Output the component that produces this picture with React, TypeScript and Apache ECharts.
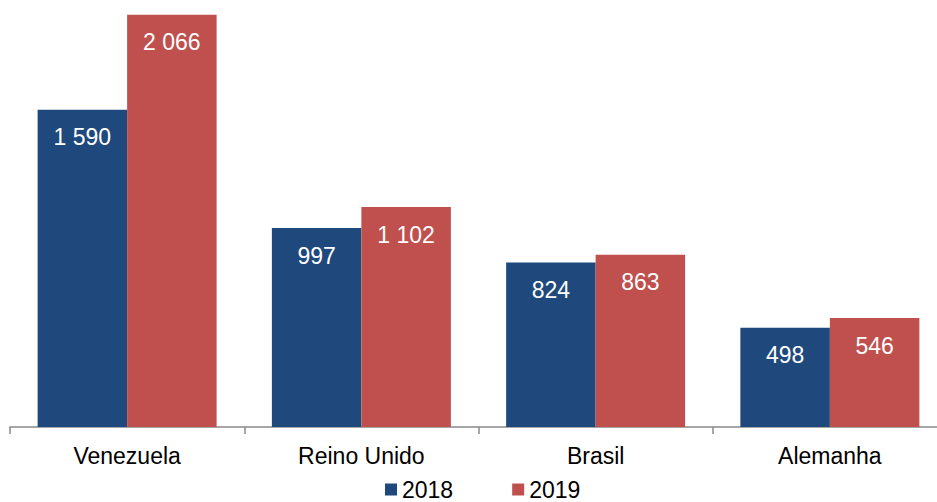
import React, { useEffect, useRef } from "react";
import * as echarts from "echarts";

const categories = ["Venezuela", "Reino Unido", "Brasil", "Alemanha"];
const series2018 = [1590, 997, 824, 498];
const series2019 = [2066, 1102, 863, 546];
const seriesNames = ["2018", "2019"];

const FONT = "'Liberation Sans', Arial, sans-serif";

function fmt(v: number): string {
  const s = String(Math.round(v));
  return s.replace(/\B(?=(\d{3})+(?!\d))/g, " ");
}

export default function App() {
  const ref = useRef<HTMLDivElement>(null);
  useEffect(() => {
    if (!ref.current) return;
    const chart = echarts.init(ref.current, undefined, { renderer: "svg" });
    const label = {
      show: true,
      position: "insideTop",
      distance: 16,
      color: "#ffffff",
      fontSize: 23,
      fontFamily: FONT,
      formatter: (p: any) => fmt(p.value),
    };
    chart.setOption({
      animation: false,
      grid: { left: 10, right: 1, top: 8, bottom: 75, containLabel: false },
      legend: {
        data: seriesNames,
        left: 385,
        top: 478,
        itemWidth: 12,
        itemHeight: 12,
        itemGap: 59,
        icon: "rect",
        textStyle: { fontSize: 23, fontFamily: FONT, color: "#000", lineHeight: 23 },
        padding: 0,
      },
      xAxis: {
        type: "category",
        data: categories,
        axisLine: { show: true, lineStyle: { color: "#898989", width: 1.5 } },
        axisTick: { show: true, length: 7, lineStyle: { color: "#898989", width: 1.5 } },
        axisLabel: { fontSize: 23, fontFamily: FONT, color: "#000", margin: 17 },
      },
      yAxis: {
        type: "value",
        min: 0,
        max: 2100,
        show: false,
        splitLine: { show: false },
      },
      series: [
        {
          name: seriesNames[0],
          type: "bar",
          data: series2018,
          barWidth: 89.5,
          barGap: "0%",
          itemStyle: { color: "#1F497D" },
          label,
        },
        {
          name: seriesNames[1],
          type: "bar",
          data: series2019,
          barWidth: 89.5,
          itemStyle: { color: "#C0504D" },
          label,
        },
      ],
    });
    return () => chart.dispose();
  }, []);
  return (
    <div
      style={{ position: "absolute", left: 0, top: 0, width: 937, height: 502, overflow: "hidden", background: "#fff" }}
    >
      <div ref={ref} style={{ width: 948, height: 502 }} />
    </div>
  );
}
